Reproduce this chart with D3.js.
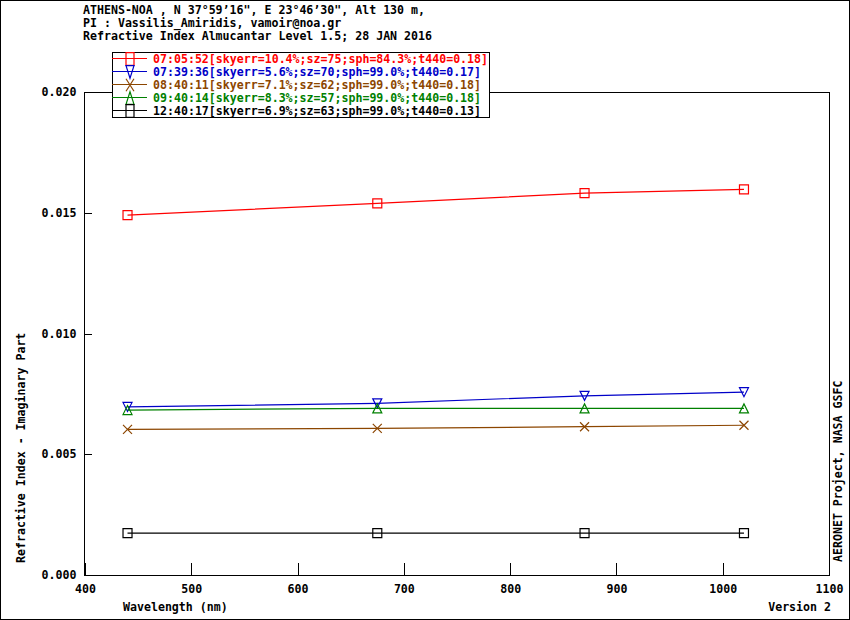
<!DOCTYPE html>
<html>
<head>
<meta charset="utf-8">
<script src="https://cdn.jsdelivr.net/npm/d3@7"></script>
<style>
body { margin: 0; background: #fff; }
text { font-family: "DejaVu Sans Mono", "Liberation Mono", monospace; font-weight: bold; font-size: 11.6px; }
</style>
</head>
<body>
<svg id="svg0" width="850" height="620"></svg>
<script>
var svg0 = d3.select('#svg0');

// data
var wavelengths = [440, 675, 870, 1020];
var series_names = ['07:05:52[skyerr=10.4%;sz=75;sph=84.3%;t440=0.18]',
	'07:39:36[skyerr=5.6%;sz=70;sph=99.0%;t440=0.17]',
	'08:40:11[skyerr=7.1%;sz=62;sph=99.0%;t440=0.18]',
	'09:40:14[skyerr=8.3%;sz=57;sph=99.0%;t440=0.18]',
	'12:40:17[skyerr=6.9%;sz=63;sph=99.0%;t440=0.13]'];
var k_0705 = [0.01490, 0.01539, 0.01581, 0.01597];
var k_0739 = [0.00696, 0.00711, 0.00742, 0.00757];
var k_0840 = [0.00603, 0.00607, 0.00614, 0.00620];
var k_0940 = [0.00683, 0.00690, 0.00690, 0.00690];
var k_1240 = [0.00173, 0.00173, 0.00173, 0.00173];
var x_ticks = [400, 500, 600, 700, 800, 900, 1000, 1100];
var y_ticks = [0, 0.005, 0.010, 0.015, 0.020];
var header_lines = ['ATHENS-NOA , N 37\u00B059\u201916", E 23\u00B046\u201930", Alt 130 m,',
	'PI : Vassilis_Amiridis, vamoir@noa.gr',
	'Refractive Index Almucantar Level 1.5; 28 JAN 2016'];

var colors = ['#ff0000', '#0000c8', '#8c4600', '#008000', '#000000'];
var symbols = ['square', 'tridown', 'cross', 'triup', 'square'];
var all_values = [k_0705, k_0739, k_0840, k_0940, k_1240];
var series = series_names.map((n, i) => ({name: n, color: colors[i], sym: symbols[i],
	pts: wavelengths.map((w, j) => [w, all_values[i][j]])}));

var p_left = 85, p_right = 829, p_top = 92, p_bottom = 575;
var x = d3.scaleLinear().domain([400, 1100]).range([p_left, p_right]);
var y = d3.scaleLinear().domain([0, 0.02]).range([p_bottom, p_top]);

// outer border
svg0.append('rect').attr('x', 0.5).attr('y', 0.5).attr('width', 849).attr('height', 619)
	.attr('fill', 'none').attr('stroke', '#000').attr('shape-rendering', 'crispEdges');

// header
svg0.selectAll('.hdr').data(header_lines).enter().append('text').attr('class', 'hdr')
	.attr('x', 83).attr('y', (d, i) => 13.5 + i*13.3).text(d => d);

// frame
svg0.append('rect').attr('x', p_left - 0.5).attr('y', p_top + 0.5).attr('width', p_right - p_left + 1).attr('height', p_bottom - p_top)
	.attr('fill', 'none').attr('stroke', '#000').attr('shape-rendering', 'crispEdges');

var xAxis = svg0.append('g').attr('transform', 'translate(0,' + (p_bottom + 0.5) + ')')
	.call(d3.axisBottom(x).tickValues(x_ticks).tickSize(-13).tickSizeOuter(0).tickPadding(9).tickFormat(d3.format('d')));
var yAxis = svg0.append('g').attr('transform', 'translate(' + (p_left - 0.5) + ',0)')
	.call(d3.axisLeft(y).tickValues(y_ticks).tickSize(-7).tickSizeOuter(0).tickPadding(8).tickFormat(d3.format('.3f')));
[xAxis, yAxis].forEach(a => {
	a.attr('font-family', null).attr('font-size', null);
	a.select('.domain').remove();
	a.selectAll('line').attr('stroke', '#000').attr('shape-rendering', 'crispEdges');
	a.selectAll('text').attr('fill', '#000');
});

// axis titles
svg0.append('text').attr('x', 123).attr('y', 611).text('Wavelength (nm)');
svg0.append('text').attr('x', 831).attr('y', 611).attr('text-anchor', 'end').text('Version 2');
svg0.append('text').attr('transform', 'translate(25,563) rotate(-90)').text('Refractive Index - Imaginary Part');
svg0.append('text').attr('transform', 'translate(842,562) rotate(-90)').text('AERONET Project, NASA GSFC');

function symPath(s, w, h) {
	if (s == 'square') return 'M' + (-w) + ',' + (-h) + 'H' + w + 'V' + h + 'H' + (-w) + 'Z';
	if (s == 'tridown') return 'M' + (-w) + ',' + (-h) + 'H' + w + 'L0,' + h + 'Z';
	if (s == 'triup') return 'M' + (-w) + ',' + h + 'H' + w + 'L0,' + (-h) + 'Z';
	return 'M' + (-w) + ',' + (-h) + 'L' + w + ',' + h + 'M' + w + ',' + (-h) + 'L' + (-w) + ',' + h;
}

var line = d3.line().x(d => x(d[0])).y(d => y(d[1]));
var g = svg0.selectAll('.series').data(series).enter().append('g').attr('class', 'series');
g.append('path').attr('d', d => line(d.pts)).attr('fill', 'none').attr('stroke', d => d.color).attr('stroke-width', 1.2);
g.each(function(s) {
	d3.select(this).selectAll('path.sym').data(s.pts).enter().append('path').attr('class', 'sym')
		.attr('transform', d => 'translate(' + x(d[0]) + ',' + y(d[1]) + ')')
		.attr('d', symPath(s.sym, 4.5, 4.5)).attr('fill', 'none').attr('stroke', s.color).attr('stroke-width', 1.2);
});

// legend
var leg = svg0.append('g');
leg.append('rect').attr('x', 112.5).attr('y', 52.5).attr('width', 377).attr('height', 65)
	.attr('fill', '#fff').attr('stroke', '#000').attr('shape-rendering', 'crispEdges');
var li = leg.selectAll('.li').data(series).enter().append('g').attr('class', 'li')
	.attr('transform', (d, i) => 'translate(0,' + (58.5 + i*13) + ')');
li.append('line').attr('x1', 112).attr('x2', 147).attr('stroke', d => d.color).attr('stroke-width', 1.2);
li.append('path').attr('transform', 'translate(130,0.5)').attr('d', d => symPath(d.sym, 4, 6.3))
	.attr('fill', 'none').attr('stroke', d => d.color).attr('stroke-width', 1.2);
li.append('text').attr('x', 153).attr('y', 4.5).attr('fill', d => d.color).text(d => d.name);
</script>
</body>
</html>
